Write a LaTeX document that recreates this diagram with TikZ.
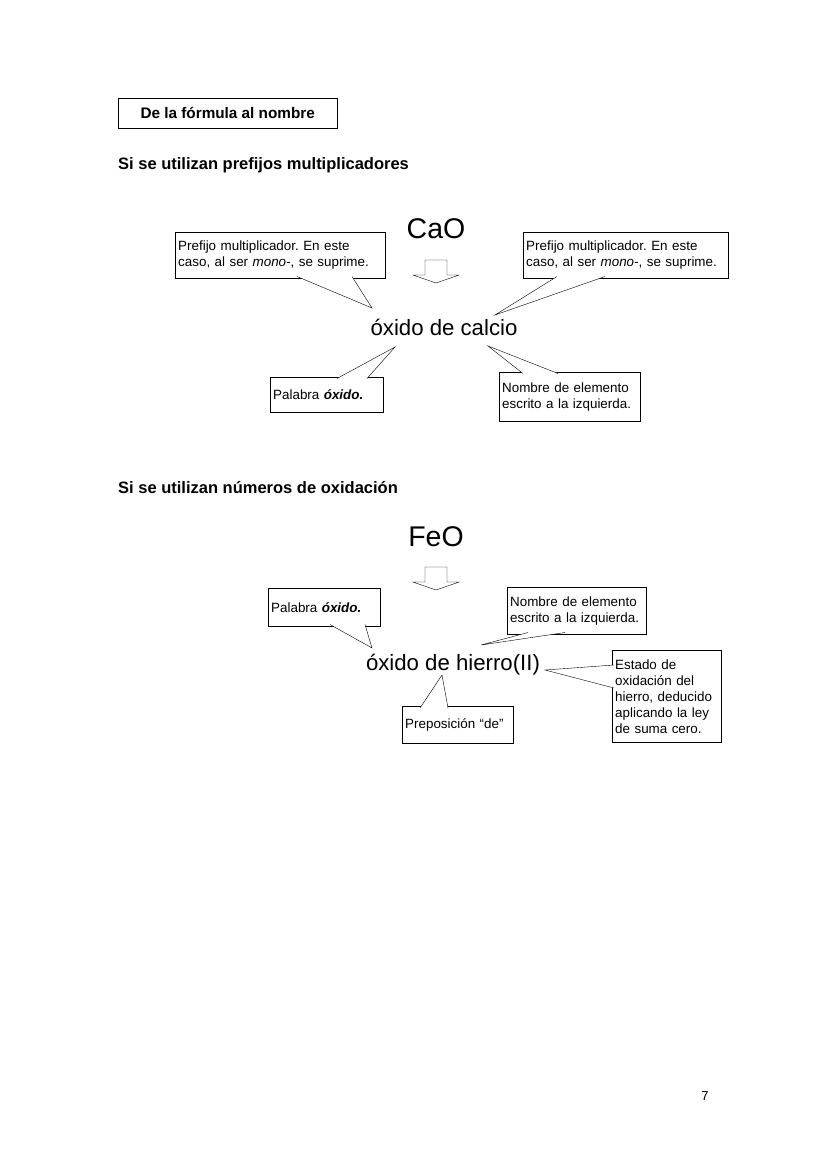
\documentclass[tikz,border=0pt]{standalone}
\usepackage{fontspec}
\setmainfont{Liberation Sans}
\usetikzlibrary{positioning}
\usetikzlibrary{calc}
\frenchspacing
\newcommand{\tail}[3]{%
  \fill[white] (#1) -- (#2) -- (#3) -- cycle;
  \draw (#1) -- (#2) -- (#3);}
\newcommand{\hollowarrow}[1]{%
  \draw[thin] ($(#1)+(-11,0)$) -- ++(0,15) -- ++(-12,0) -- ++(23,8) -- ++(23,-8) -- ++(-12,0) -- ++(0,-15) -- cycle;}
\begin{document}
\begin{tikzpicture}[x=1pt,y=-1pt,
  callbox/.style={draw,fill=white,anchor=north west,align=left,inner xsep=3pt,inner ysep=3pt,
    font=\fontsize{13.4}{16}\selectfont},
  formula/.style={font=\fontsize{28.5}{31}\selectfont},
  chemname/.style={font=\fontsize{22.2}{25}\selectfont},
  heading/.style={anchor=west,font=\fontsize{16.5}{19}\selectfont\bfseries}]
\useasboundingbox (0,0) rectangle (828,1171);
% title
\node[draw,minimum width=219pt,minimum height=30pt,anchor=north west,
  font=\fontsize{15.3}{18}\selectfont\bfseries] (title) at (118,98) {De la fórmula al nombre};
% first case
\node[heading,inner xsep=0pt] (head1) at (118,165) {Si se utilizan prefijos multiplicadores};
\node[formula] (cao) at (436,229) {CaO};
\coordinate (arr1) at (436,260);
\hollowarrow{arr1}
\node[chemname] (calcio) at (444,327) {óxido de calcio};
\node[callbox,text width=204pt,minimum height=46pt] (pre1) at (175,232)
  {Prefijo multiplicador. En este\\caso, al ser \emph{mono-}, se suprime.};
\node[callbox,text width=199pt,minimum height=46pt] (pre2) at (523,232)
  {Prefijo multiplicador. En este\\caso, al ser \emph{mono-}, se suprime.};
\node[callbox,text width=107pt,minimum height=35pt] (oxi1) at (270,377)
  {Palabra \textbf{\emph{óxido.}}};
\node[callbox,text width=135pt,minimum height=49pt] (nom1) at (499,372)
  {Nombre de elemento\\escrito a la izquierda.};
\coordinate (t1a) at (297,276.5); \coordinate (t1t) at (372,308); \coordinate (t1b) at (352,276.5);
\coordinate (t2a) at (605,276.5); \coordinate (t2t) at (495,315); \coordinate (t2b) at (557,276.5);
\coordinate (t3a) at (337,378.5); \coordinate (t3t) at (395,347); \coordinate (t3b) at (367,378.5);
\coordinate (t4a) at (523,373.5); \coordinate (t4t) at (488,346); \coordinate (t4b) at (558,373.5);
\tail{t1a}{t1t}{t1b}
\tail{t2a}{t2t}{t2b}
\tail{t3a}{t3t}{t3b}
\tail{t4a}{t4t}{t4b}
% second case
\node[heading,inner xsep=0pt] (head2) at (118,488) {Si se utilizan números de oxidación};
\node[formula] (feo) at (436,537) {FeO};
\coordinate (arr2) at (436,567);
\hollowarrow{arr2}
\node[chemname] (hierro) at (453,665) {óxido de hierro(II)};
\node[callbox,text width=106pt,minimum height=38pt] (oxi2) at (268,588)
  {Palabra \textbf{\emph{óxido.}}};
\node[callbox,text width=133pt,minimum height=47pt] (nom2) at (507,587)
  {Nombre de elemento\\escrito a la izquierda.};
\node[callbox,text width=105pt,minimum height=37pt] (prep) at (402,706)
  {Preposición “de”};
\node[callbox,text width=103pt,minimum height=92pt] (est) at (612,650)
  {Estado de\\oxidación del\\hierro, deducido\\aplicando la ley\\de suma cero.};
\coordinate (t5a) at (330,624.5); \coordinate (t5t) at (372,648); \coordinate (t5b) at (365,624.5);
\coordinate (t6a) at (565,632.5); \coordinate (t6t) at (481,645); \coordinate (t6b) at (528,632.5);
\coordinate (t7a) at (420,708); \coordinate (t7t) at (442,675); \coordinate (t7b) at (448,708);
\coordinate (t8a) at (614,665); \coordinate (t8t) at (545,670); \coordinate (t8b) at (614,688);
\tail{t5a}{t5t}{t5b}
\tail{t6a}{t6t}{t6b}
\tail{t7a}{t7t}{t7b}
\tail{t8a}{t8t}{t8b}
% page number
\node[font=\fontsize{13}{15}\selectfont] (page) at (705,1096) {7};
\end{tikzpicture}
\end{document}
